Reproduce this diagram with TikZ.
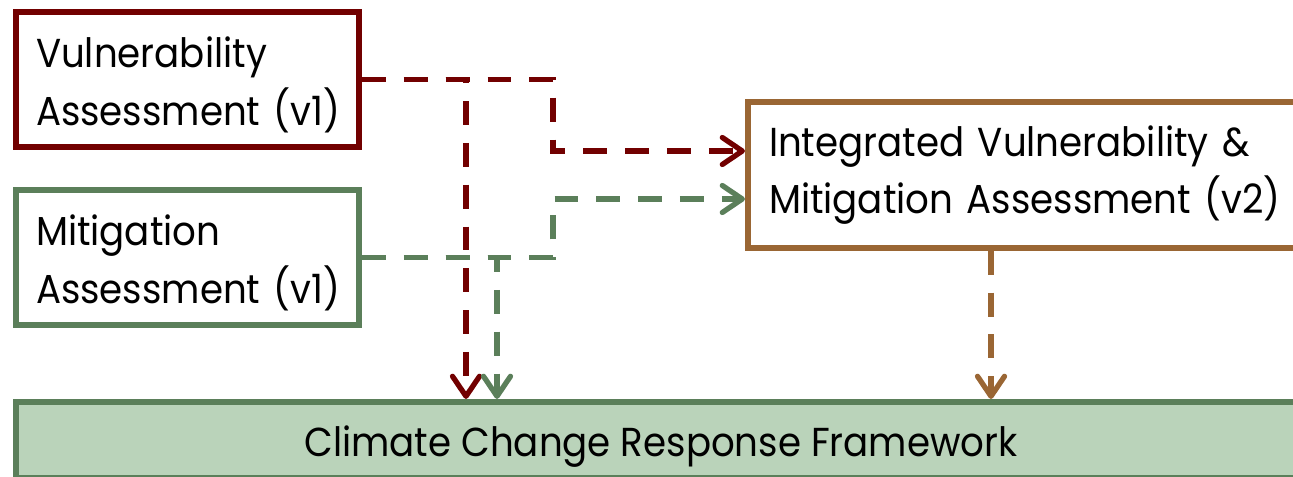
\documentclass[tikz,border=0pt]{standalone}
\usepackage{fontspec}
\setmainfont{Poppins}[FakeStretch=0.92]
\usepackage{tikz}
\usetikzlibrary{arrows.meta}
\definecolor{maroon}{HTML}{720000}
\definecolor{sage}{HTML}{5B7F5A}
\definecolor{copper}{HTML}{9A6634}
\definecolor{mint}{HTML}{BAD3BA}

\begin{document}
\begin{tikzpicture}[x=1cm,y=1cm,
  box/.style={rectangle,line width=3.5pt,fill=white,inner sep=0pt,align=left,font=\fontsize{23}{32.8}\selectfont},
  link/.style={line width=3pt,dash pattern=on 13.6pt off 10.2pt,-{Straight Barb[length=0.4cm,width=0.54cm,round]}}]
\useasboundingbox (0,0) rectangle (25.86,9.52);
\node[box,draw=maroon,minimum width=6.86cm,minimum height=2.7cm,text width=6.06cm] (va) at (3.75,7.93) {\rule{0pt}{0.82cm}\mbox{Vulnerability}\\\mbox{Assessment (v1)}};
\node[box,draw=sage,minimum width=6.86cm,minimum height=2.7cm,text width=6.06cm] (ma) at (3.75,4.37) {\rule{0pt}{0.82cm}\mbox{Mitigation}\\\mbox{Assessment (v1)}};
\node[box,draw=copper,minimum width=11.04cm,minimum height=2.91cm,text width=10.2cm] (ia) at (20.48,6.02) {\mbox{Integrated Vulnerability \&}\\\mbox{Mitigation Assessment (v2)}};
\node[box,draw=sage,fill=mint,align=center,minimum width=25.8cm,minimum height=1.52cm] (cf) at (13.22,0.72) {\rule{0pt}{0.88cm}Climate Change Response Framework};
\coordinate (rdrop) at (9.32,0);
\coordinate (gdrop) at (9.94,0);
\coordinate (knee) at (11.06,0);
\coordinate (idrop) at (19.82,0);
\draw[link,maroon] (va.east) -| (rdrop |- cf.north);
\draw[link,maroon] (va.east) -- (va.east -| knee) |- ([yshift=0.48cm]ia.west);
\draw[link,sage] (ma.east) -| (gdrop |- cf.north);
\draw[link,sage] (ma.east) -- (ma.east -| knee) |- ([yshift=-0.48cm]ia.west);
\draw[link,copper] (ia.south -| idrop) -- (idrop |- cf.north);
\end{tikzpicture}
\end{document}
